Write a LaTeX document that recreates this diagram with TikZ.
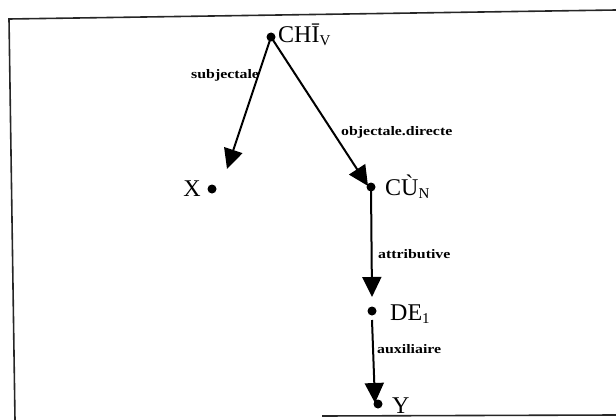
\documentclass[tikz,border=0pt]{standalone}
\usepackage{fontspec}
\usepackage{graphicx}
\setmainfont{Liberation Serif}
\usetikzlibrary{arrows.meta}
\newcommand{\lowsub}[1]{\raisebox{-3pt}{\fontsize{15}{15}\selectfont #1}}
\newcommand{\rellab}[1]{\scalebox{1.22}[1]{\fontsize{13}{13}\selectfont\bfseries #1}}
\tikzset{
  dotnode/.style={circle,fill=black,inner sep=0pt,minimum size=9pt},
  wordlab/.style={inner sep=0pt,font=\fontsize{24}{24}\selectfont},
  rellabel/.style={inner sep=0pt},
  relarrow/.style={line width=2pt,-{Triangle[length=20pt,width=19pt]}},
  frameline/.style={line width=1.6pt,black!85}
}
\begin{document}
\begin{tikzpicture}[x=1pt,y=-1pt]
\useasboundingbox (0,0) rectangle (616,420);
% frame (scanned, slightly tilted)
\coordinate (ftl) at (9,19);
\coordinate (ftr) at (616,10);
\coordinate (fbl) at (15,420);
\coordinate (fbs) at (322,416);
\coordinate (fbr) at (616,415);
\draw[frameline] (ftr) -- (ftl) -- (fbl);
\draw[frameline] (fbs) -- (fbr);
% dots
\node[dotnode] (chi) at (271,37) {};
\node[dotnode] (x) at (212,189) {};
\node[dotnode] (cu) at (371,187) {};
\node[dotnode] (de) at (372,311) {};
\node[dotnode] (y) at (378,404) {};
% word labels
\node[wordlab,anchor=base west] (chil) at (278,43) {CHĪ\lowsub{V}};
\node[wordlab,anchor=base east] (xl) at (201,196) {X};
\node[wordlab,anchor=base west] (cul) at (385,195) {CÙ\lowsub{N}};
\node[wordlab,anchor=base west] (del) at (390,320) {DE\lowsub{1}};
\node[wordlab,anchor=base west] (yl) at (392,413) {Y};
% arrow ends
\coordinate (tipx) at (227,169);
\coordinate (tipcu) at (368,186);
\coordinate (tipde) at (372,297);
\coordinate (startde) at (372,320);
\coordinate (tipy) at (375,403);
% arrows
\draw[relarrow] (chi.center) -- (tipx);
\draw[relarrow] (chi.center) -- (tipcu);
\draw[relarrow] (cu.center) -- (tipde);
\draw[relarrow] (startde) -- (tipy);
% relation labels
\node[rellabel,anchor=base west] (l1) at (191,78) {\rellab{subjectale}};
\node[rellabel,anchor=base west] (l2) at (341,135) {\rellab{objectale.directe}};
\node[rellabel,anchor=base west] (l3) at (378,258) {\rellab{attributive}};
\node[rellabel,anchor=base west] (l4) at (377,353) {\rellab{auxiliaire}};
\end{tikzpicture}
\end{document}
